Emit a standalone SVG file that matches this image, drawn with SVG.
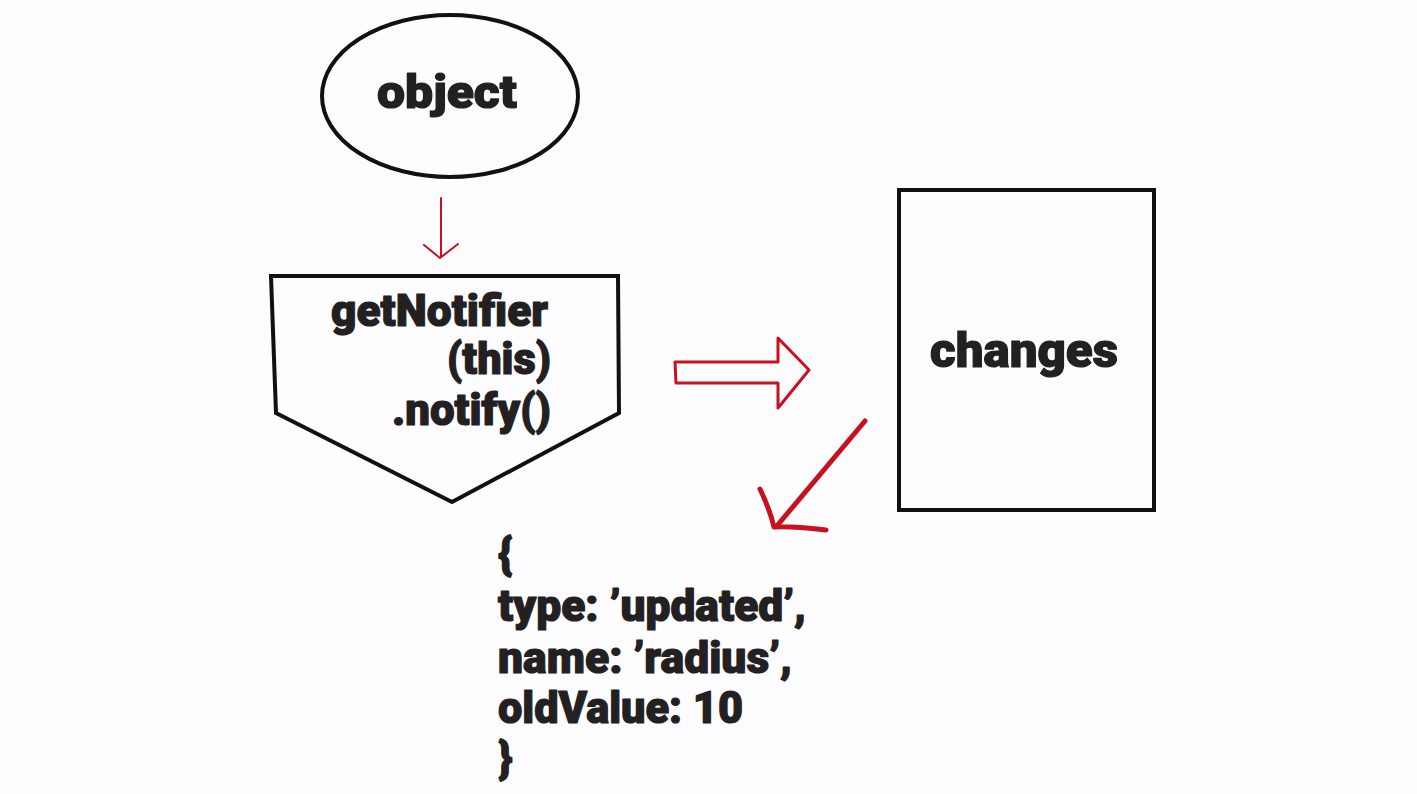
<svg xmlns="http://www.w3.org/2000/svg" width="1417" height="794" viewBox="0 0 1417 794">
<style>
.bg{fill:#fdfcfe}
.shape{fill:#fdfcfe;stroke:#111;stroke-width:4;stroke-linejoin:miter}
.lbl{font-family:Roboto,"Liberation Sans",sans-serif;font-weight:900;fill:#232022;stroke:#232022;stroke-width:1.2;stroke-linejoin:round}
.red{fill:none;stroke:#c8101e;stroke-linecap:round;stroke-linejoin:round}
</style>
<rect class="bg" x="0" y="0" width="1417" height="794"/>
<g id="node-object">
<ellipse class="shape" cx="450" cy="96" rx="128" ry="81"/>
<text class="lbl" x="377" y="108" font-size="47" textLength="140" lengthAdjust="spacingAndGlyphs">object</text>
</g>
<g id="node-notifier">
<path class="shape" d="M271 276 L618 276 L619 413 L452 502 L276 413 Z"/>
<text class="lbl" x="331" y="326" font-size="45" textLength="217" lengthAdjust="spacingAndGlyphs">getNotifier</text>
<text class="lbl" x="447" y="374" font-size="45" textLength="104" lengthAdjust="spacingAndGlyphs">(this)</text>
<text class="lbl" x="392" y="425" font-size="45" textLength="159" lengthAdjust="spacingAndGlyphs">.notify()</text>
</g>
<g id="node-changes">
<rect class="shape" x="899" y="190" width="255" height="320"/>
<text class="lbl" x="930" y="367" font-size="49" textLength="188" lengthAdjust="spacingAndGlyphs">changes</text>
</g>
<g id="node-record">
<text class="lbl" x="498" y="569" font-size="45">{</text>
<text class="lbl" x="498" y="621" font-size="45" textLength="308" lengthAdjust="spacingAndGlyphs">type: ’updated’,</text>
<text class="lbl" x="498" y="673" font-size="45" textLength="294" lengthAdjust="spacingAndGlyphs">name: ’radius’,</text>
<text class="lbl" x="498" y="723" font-size="45" textLength="245" lengthAdjust="spacingAndGlyphs">oldValue: 10</text>
<text class="lbl" x="498" y="773" font-size="45">}</text>
</g>
<g id="connectors">
<path class="red" stroke-width="2" d="M441 198 L441 257 M424 245 L440 258 L458 244"/>
<path class="red" stroke-width="3" d="M675 362 L778 362 L778 338 L809 370 L778 408 L778 383 L676 383 Z"/>
<path class="red" stroke-width="5" d="M865 421 L776 527 M760 489 Q770 510 774 527 Q790 526 826 530"/>
</g>
</svg>
